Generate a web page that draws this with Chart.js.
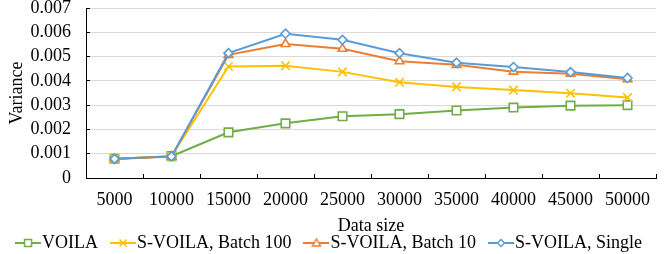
<!DOCTYPE html>
<html>
<head>
<meta charset="utf-8">
<script src="https://cdn.jsdelivr.net/npm/chart.js@4.4.1/dist/chart.umd.min.js"></script>
<style>
  html, body { margin: 0; padding: 0; background: #fff; }
  #wrap { width: 665px; height: 254px; position: relative; }
</style>
</head>
<body>
<div id="wrap"><canvas id="c"></canvas></div>
<script>
const categories = ['5000','10000','15000','20000','25000','30000','35000','40000','45000','50000'];
const voila      = [0.00079, 0.00090, 0.00188, 0.00225, 0.00254, 0.00263, 0.00278, 0.00290, 0.00298, 0.00300];
const batch100   = [0.00079, 0.00089, 0.00459, 0.00462, 0.00437, 0.00394, 0.00375, 0.00362, 0.00349, 0.00331];
const batch10    = [0.00078, 0.00088, 0.00507, 0.00552, 0.00532, 0.00481, 0.00466, 0.00438, 0.00429, 0.00407];
const single     = [0.00079, 0.00089, 0.00514, 0.00594, 0.00569, 0.00514, 0.00475, 0.00457, 0.00436, 0.00412];
const seriesNames = ['VOILA', 'S-VOILA, Batch 100', 'S-VOILA, Batch 10', 'S-VOILA, Single'];
const yTickLabels = ['0','0.001','0.002','0.003','0.004','0.005','0.006','0.007'];
const xTitle = 'Data size';
const yTitle = 'Variance';

const colors = ['#70AD47', '#FFC000', '#ED7D31', '#5B9BD5'];
const styles = ['rect', 'crossRot', 'triangle', 'rectRot'];
const radii  = [6, 6, 5, 4.5];
const FONT = "'Liberation Serif', 'Times New Roman', serif";

function legendIcon(i) {
  const W = 26;
  const cv = document.createElement('canvas');
  cv.width = W; cv.height = 12;
  const ctx = cv.getContext('2d');
  ctx.strokeStyle = colors[i];
  ctx.lineWidth = 2;
  ctx.beginPath(); ctx.moveTo(0, 6); ctx.lineTo(W, 6); ctx.stroke();
  ctx.lineWidth = 1.5;
  ctx.fillStyle = '#fff';
  const cx = W / 2, cy = 6;
  ctx.beginPath();
  if (i === 0) { ctx.rect(cx - 3.5, cy - 3.5, 7, 7); ctx.fill(); ctx.stroke(); }
  else if (i === 1) { ctx.moveTo(cx-3.5,cy-3.5); ctx.lineTo(cx+3.5,cy+3.5); ctx.moveTo(cx+3.5,cy-3.5); ctx.lineTo(cx-3.5,cy+3.5); ctx.stroke(); }
  else if (i === 2) { ctx.moveTo(cx, cy-4); ctx.lineTo(cx+4, cy+3); ctx.lineTo(cx-4, cy+3); ctx.closePath(); ctx.fill(); ctx.stroke(); }
  else { ctx.moveTo(cx, cy-3.5); ctx.lineTo(cx+3.5, cy); ctx.lineTo(cx, cy+3.5); ctx.lineTo(cx-3.5, cy); ctx.closePath(); ctx.fill(); ctx.stroke(); }
  return cv;
}
const icons = [0,1,2,3].map(legendIcon);

const seriesData = [voila, batch100, batch10, single];
const datasets = seriesData.map((d, i) => ({
  label: seriesNames[i],
  data: d,
  borderColor: colors[i],
  backgroundColor: '#ffffff',
  borderWidth: 2,
  pointStyle: styles[i],
  pointRadius: radii[i],
  pointHoverRadius: radii[i],
  pointBorderColor: colors[i],
  pointBackgroundColor: '#ffffff',
  pointBorderWidth: 1.6,
  tension: 0,
  fill: false,
  order: 4 - i
}));

new Chart(document.getElementById('c'), {
  type: 'line',
  data: { labels: categories, datasets },
  options: {
    responsive: true,
    maintainAspectRatio: false,
    animation: false,
    devicePixelRatio: 1,
    layout: { padding: { left: 0, right: 0, top: 0, bottom: -8 } },
    plugins: {
      tooltip: { enabled: false },
      legend: {
        position: 'bottom',
        labels: {
          usePointStyle: true,
          pointStyleWidth: 10,
          padding: 20,
          color: '#000',
          font: { family: FONT, size: 18 },
          sort: (a, b) => a.datasetIndex - b.datasetIndex,
          generateLabels: (chart) => chart.data.datasets.map((ds, i) => ({
            text: ds.label,
            pointStyle: icons[i],
            fillStyle: colors[i],
            strokeStyle: colors[i],
            lineWidth: 0,
            hidden: false,
            datasetIndex: i,
            fontColor: '#000'
          }))
        }
      }
    },
    scales: {
      x: {
        type: 'category',
        offset: true,
        grid: { display: true, drawOnChartArea: false, offset: true, drawTicks: true, tickLength: -4, tickColor: '#000', color: '#000' },
        border: { display: true, color: '#000', width: 1 },
        ticks: { color: '#000', font: { family: FONT, size: 18 }, padding: 15, maxRotation: 0, autoSkip: false },
        title: { display: true, text: xTitle, color: '#000', font: { family: FONT, size: 18 }, padding: { top: 0, bottom: -23 } },
        afterFit: (s) => { s.height = 36; s.paddingRight = 9; s.paddingLeft = 0; }
      },
      y: {
        min: 0, max: 0.007,
        ticks: {
          stepSize: 0.001,
          autoSkip: false,
          color: '#000',
          font: { family: FONT, size: 18 },
          padding: 19,
          callback: (v, idx) => yTickLabels[idx]
        },
        grid: { color: '#d9d9d9', lineWidth: 1, drawTicks: true, tickLength: -4, tickColor: '#000' },
        border: { display: true, color: '#000', width: 1 },
        title: { display: true, text: yTitle, color: '#000', font: { family: FONT, size: 18 }, padding: { top: 6, bottom: 0 } },
        afterFit: (s) => { s.width = 86; s.paddingTop = 8; s.paddingBottom = 0; }
      }
    }
  }
});
</script>
</body>
</html>
